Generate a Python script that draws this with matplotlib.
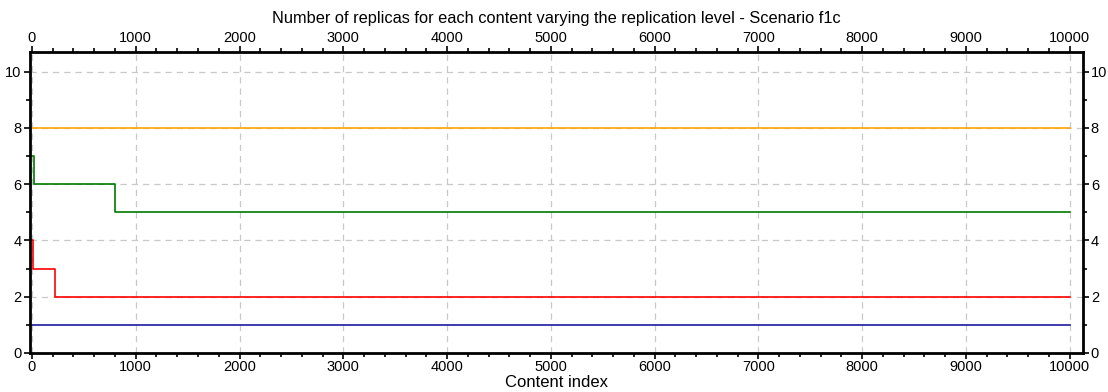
import matplotlib
matplotlib.use("Agg")
import matplotlib.pyplot as plt
from matplotlib.ticker import MultipleLocator

plt.rcParams['font.family'] = ['Liberation Sans', 'DejaVu Sans']

# step series: breakpoints (content index) and replica counts
orange_x = [0, 10000]
orange_y = [8, 8]
green_x = [0, 15, 800, 10000]
green_y = [7, 6, 5, 5]
red_x = [0, 10, 220, 10000]
red_y = [4, 3, 2, 2]
blue_x = [0, 10000]
blue_y = [1, 1]


def main():
    fig = plt.figure(figsize=(11.08, 3.92), dpi=100)
    ax = fig.add_axes([0.027, 0.0995, 0.95, 0.768])

    ax.plot(orange_x, orange_y, color="#ffa500", lw=1.2, drawstyle="steps-post")
    ax.plot(green_x, green_y, color="#007a00", lw=1.2, drawstyle="steps-post")
    ax.plot(red_x, red_y, color="#ff0000", lw=1.2, drawstyle="steps-post")
    ax.plot(blue_x, blue_y, color="#1a1aa0", lw=1.2, drawstyle="steps-post")

    ax.set_xlim(-20, 10125)
    ax.set_ylim(0, 10.7)
    ax.xaxis.set_major_locator(MultipleLocator(1000))
    ax.xaxis.set_minor_locator(MultipleLocator(200))
    ax.yaxis.set_major_locator(MultipleLocator(2))
    ax.yaxis.set_minor_locator(MultipleLocator(1))

    ax.grid(True, which="major", ls=(0, (5, 4)), color="#c8c8c8", lw=0.9)
    for s in ax.spines.values():
        s.set_linewidth(2.0)
    ax.tick_params(which="both", direction="out", top=True, right=True,
                   labeltop=True, labelright=True, labelsize=10.5, width=1.2)
    ax.tick_params(which="major", length=4)
    ax.tick_params(which="minor", length=3)
    ax.tick_params(axis="x", which="major", pad=1)
    ax.tick_params(axis="y", which="major", pad=2)

    ax.set_title("Number of replicas for each content varying the replication level - Scenario f1c",
                 fontsize=11.8, pad=6)
    ax.set_xlabel("Content index", fontsize=12, labelpad=1)

    fig.savefig("out.png", dpi=100)


if __name__ == "__main__":
    main()
